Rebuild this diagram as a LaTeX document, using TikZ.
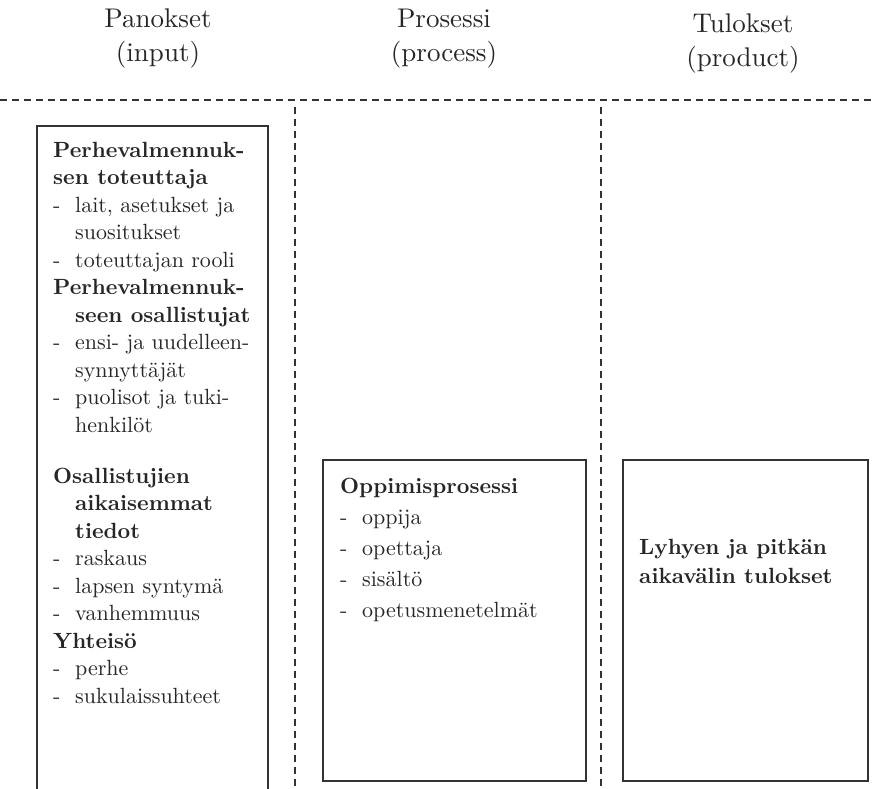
\documentclass[tikz,border=0pt]{standalone}
\usepackage{fontspec}
\setmainfont{lmroman10}[Extension=.otf, UprightFont=*-regular, BoldFont=*-bold, ItalicFont=*-italic]
\usepackage{tikz}
\tikzstyle{heading} = [align=center, anchor=north, inner sep=0pt, text=black!85, font=\fontsize{27}{34}\selectfont]
\tikzstyle{boxtext} = [align=left, anchor=north west, inner sep=0pt, text=black!85, font=\fontsize{22}{27.5}\selectfont]
\tikzstyle{box} = [rectangle, draw=black!80, line width=1.5pt, anchor=north west, inner sep=0pt]
\tikzstyle{divider} = [draw=black!80, line width=1.2pt, dash pattern=on 7pt off 5pt]
\newcommand{\dashitem}{\makebox[22pt][l]{-}}
\newcommand{\hind}{\hspace*{22pt}}

\begin{document}
\begin{tikzpicture}[x=1pt, y=-1pt]
  \useasboundingbox (0,0) rectangle (875,789);

  % column headings
  \node (h_input) [heading] at (158, 9) {Panokset\\(input)};
  \node (h_process) [heading] at (444, 8.5) {Prosessi\\(process)};
  \node (h_product) [heading] at (743, 13.5) {Tulokset\\(product)};

  % dashed dividers
  \draw [divider] (0,100) -- (875,100);
  \draw [divider] (295,107) -- (295,789);
  \draw [divider] (601,107) -- (601,789);

  % input column, box is open at the bottom
  \draw [draw=black!80, line width=1.5pt] (37,789) -- (37,126) -- (268,126) -- (268,789);
  \node (t_input) [boxtext] at (53, 141.7) {%
    \textbf{Perhevalmennuk-}\\
    \textbf{sen toteuttaja}\\
    \dashitem lait, asetukset ja\\
    \hind suositukset\\
    \dashitem toteuttajan rooli\\
    \textbf{Perhevalmennuk-}\\
    \hind\textbf{seen osallistujat}\\
    \dashitem ensi- ja uudelleen-\\
    \hind synnyttäjät\\
    \dashitem puolisot ja tuki-\\
    \hind henkilöt\\[23.5pt]
    \textbf{Osallistujien}\\
    \hind\textbf{aikaisemmat}\\
    \hind\textbf{tiedot}\\
    \dashitem raskaus\\
    \dashitem lapsen syntymä\\
    \dashitem vanhemmuus\\
    \textbf{Yhteisö}\\
    \dashitem perhe\\
    \dashitem sukulaissuhteet};

  % process column
  \node (b_process) [box, minimum width=263pt, minimum height=321pt] at (322, 459) {};
  \node (t_process) [boxtext, font=\fontsize{22}{31}\selectfont] at (340, 477.7) {%
    \textbf{Oppimisprosessi}\\
    \dashitem oppija\\
    \dashitem opettaja\\
    \dashitem sisältö\\
    \dashitem opetusmenetelmät};

  % product column
  \node (b_product) [box, minimum width=245pt, minimum height=321pt] at (622, 459) {};
  \node (t_product) [boxtext, font=\fontsize{22}{29}\selectfont] at (639, 538.7) {%
    \textbf{Lyhyen ja pitkän}\\
    \textbf{aikavälin tulokset}};
\end{tikzpicture}
\end{document}
